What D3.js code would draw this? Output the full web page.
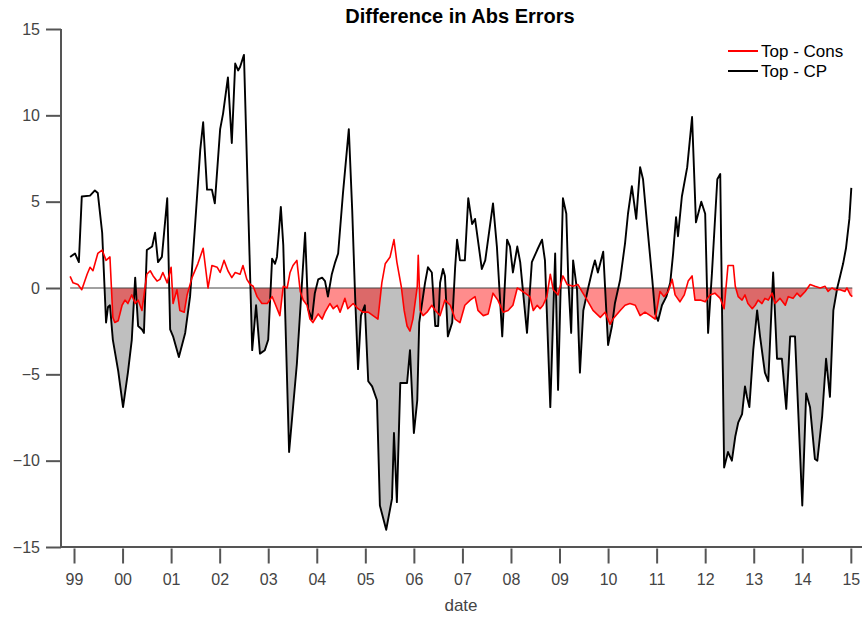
<!DOCTYPE html>
<html>
<head>
<meta charset="utf-8">
<script src="https://cdn.jsdelivr.net/npm/d3@7"></script>
<style>
  html, body { margin: 0; padding: 0; background: #fff; }
  svg { display: block; font-family: "Liberation Sans", Arial, Helvetica, sans-serif; }
</style>
</head>
<body>
<svg id="chart" width="863" height="618"></svg>
<script>
// ---- data (decimal years, values) ----
const cpDates = [1998.92,1999.02,1999.10,1999.16,1999.33,1999.43,1999.49,1999.58,1999.66,1999.70,1999.74,1999.80,1999.91,2000.01,2000.11,2000.19,2000.26,2000.32,2000.40,2000.44,2000.50,2000.61,2000.67,2000.73,2000.81,2000.92,2000.98,2001.04,2001.16,2001.29,2001.39,2001.49,2001.60,2001.66,2001.74,2001.84,2001.90,2002.01,2002.07,2002.17,2002.25,2002.32,2002.38,2002.42,2002.50,2002.67,2002.75,2002.83,2002.93,2003.00,2003.08,2003.14,2003.18,2003.26,2003.31,2003.43,2003.59,2003.76,2003.82,2003.90,2003.96,2004.03,2004.11,2004.17,2004.23,2004.31,2004.38,2004.44,2004.54,2004.66,2004.73,2004.79,2004.85,2004.91,2004.99,2005.06,2005.14,2005.24,2005.30,2005.43,2005.55,2005.59,2005.65,2005.72,2005.86,2005.92,2006.00,2006.07,2006.11,2006.23,2006.29,2006.37,2006.44,2006.50,2006.54,2006.60,2006.64,2006.70,2006.79,2006.85,2006.89,2006.95,2007.05,2007.12,2007.20,2007.26,2007.40,2007.47,2007.63,2007.71,2007.82,2007.92,2007.98,2008.04,2008.13,2008.19,2008.33,2008.43,2008.54,2008.64,2008.70,2008.81,2008.91,2008.97,2009.07,2009.14,2009.18,2009.24,2009.28,2009.36,2009.42,2009.49,2009.59,2009.69,2009.73,2009.79,2009.90,2010.00,2010.08,2010.14,2010.25,2010.35,2010.41,2010.49,2010.58,2010.66,2010.72,2010.80,2010.91,2010.97,2011.03,2011.11,2011.20,2011.28,2011.34,2011.40,2011.44,2011.52,2011.63,2011.73,2011.81,2011.92,2012.00,2012.06,2012.14,2012.25,2012.31,2012.39,2012.47,2012.55,2012.62,2012.68,2012.76,2012.82,2012.86,2012.91,2012.99,2013.07,2013.13,2013.23,2013.30,2013.40,2013.48,2013.58,2013.67,2013.75,2013.85,2014.00,2014.08,2014.16,2014.26,2014.31,2014.41,2014.49,2014.57,2014.64,2014.72,2014.78,2014.84,2014.90,2014.97,2015.01];
const cpValues = [1.8,2.0,1.5,5.3,5.35,5.65,5.5,3.2,-2.0,-1.1,-1.0,-3.0,-4.8,-6.9,-4.9,-3.0,0.6,-2.2,-2.4,-2.6,2.2,2.4,3.2,1.5,1.8,5.2,-2.4,-2.8,-4.0,-2.6,-0.5,3.5,8.0,9.6,5.7,5.7,4.9,9.2,10.1,12.2,8.4,13.0,12.6,12.8,13.5,-3.6,-1.0,-3.8,-3.6,-3.0,1.7,1.4,1.8,4.7,2.5,-9.5,-4.4,3.2,-1.2,-1.8,-0.3,0.5,0.6,0.4,-0.5,0.8,1.5,2.0,5.5,9.2,4.5,-0.5,-4.7,-1.6,-1.0,-5.4,-5.7,-6.5,-12.6,-14.0,-12.2,-8.4,-12.4,-5.5,-5.5,-3.6,-8.4,-6.5,-2.0,0.3,1.2,0.9,-2.2,-2.2,0.3,1.1,0.7,-2.8,-2.0,1.2,2.8,1.6,1.6,5.2,3.7,4.0,1.1,1.6,4.9,2.4,-2.8,2.8,2.4,0.9,2.4,1.5,-2.6,1.5,2.2,2.8,1.6,-6.9,2.0,-5.9,5.2,4.3,0.5,-2.6,1.6,-0.1,-4.9,-1.3,0.0,1.2,1.6,0.9,2.1,-3.3,-2.2,-0.9,0.5,2.6,4.3,5.9,4.0,7.0,6.3,3.8,0.5,-1.5,-1.9,-1.0,-0.5,0.3,2.0,4.1,3.0,5.3,7.0,9.9,3.8,5.0,4.3,-2.6,0.9,6.3,6.6,-10.4,-9.5,-10.0,-8.6,-7.8,-7.3,-5.7,-6.3,-6.9,-3.6,-1.3,-2.8,-4.9,-5.4,0.9,-4.1,-4.1,-7.0,-2.8,-2.8,-12.6,-6.1,-6.9,-9.9,-10.0,-7.4,-4.1,-6.3,-1.3,0.0,0.7,1.4,2.3,4.0,5.8];

const consDates = [1998.92,1998.98,1999.08,1999.16,1999.27,1999.33,1999.39,1999.49,1999.58,1999.66,1999.74,1999.80,1999.84,1999.91,1999.99,2000.05,2000.11,2000.19,2000.26,2000.32,2000.40,2000.50,2000.57,2000.63,2000.71,2000.77,2000.83,2000.92,2001.00,2001.04,2001.12,2001.18,2001.27,2001.33,2001.43,2001.55,2001.66,2001.76,2001.84,2001.95,2002.01,2002.09,2002.17,2002.25,2002.32,2002.42,2002.48,2002.56,2002.63,2002.69,2002.77,2002.87,2002.98,2003.08,2003.14,2003.24,2003.31,2003.39,2003.45,2003.51,2003.59,2003.66,2003.72,2003.80,2003.86,2003.92,2004.03,2004.11,2004.17,2004.27,2004.34,2004.42,2004.48,2004.58,2004.64,2004.75,2004.85,2004.95,2005.06,2005.16,2005.26,2005.34,2005.41,2005.51,2005.59,2005.65,2005.74,2005.80,2005.86,2005.92,2005.98,2006.07,2006.09,2006.13,2006.19,2006.27,2006.37,2006.44,2006.54,2006.64,2006.75,2006.85,2006.95,2007.05,2007.16,2007.26,2007.32,2007.43,2007.53,2007.63,2007.73,2007.84,2007.94,2008.04,2008.13,2008.19,2008.29,2008.39,2008.46,2008.54,2008.60,2008.66,2008.74,2008.81,2008.87,2008.97,2009.07,2009.16,2009.28,2009.38,2009.46,2009.57,2009.69,2009.84,2009.94,2010.04,2010.10,2010.25,2010.35,2010.45,2010.56,2010.66,2010.76,2010.87,2010.97,2011.07,2011.15,2011.24,2011.32,2011.38,2011.48,2011.57,2011.65,2011.73,2011.79,2011.90,2012.00,2012.10,2012.20,2012.31,2012.39,2012.47,2012.58,2012.62,2012.68,2012.76,2012.82,2012.88,2012.97,2013.03,2013.09,2013.17,2013.23,2013.30,2013.38,2013.44,2013.54,2013.65,2013.71,2013.81,2013.89,2013.96,2014.06,2014.16,2014.26,2014.37,2014.47,2014.53,2014.61,2014.68,2014.78,2014.88,2014.92,2014.99,2015.03];
const consValues = [0.67,0.3,0.2,-0.1,0.8,1.2,1.0,2.0,2.2,1.6,1.8,-1.7,-2.0,-1.9,-1.0,-0.7,-0.9,-0.4,-0.9,-0.7,-1.3,0.8,1.0,0.7,0.4,0.5,0.9,0.3,1.2,-0.9,-0.1,-1.3,-1.4,-0.4,0.6,1.4,2.3,0.0,1.3,1.2,0.9,1.6,1.0,0.6,0.9,0.8,1.3,0.5,0.2,0.1,-0.5,-0.9,-0.9,-0.5,-0.9,-1.6,0.1,0.0,0.9,1.3,1.6,-0.2,-0.7,-1.0,-1.8,-2.0,-1.5,-1.8,-1.4,-0.9,-1.2,-1.0,-1.4,-0.6,-1.2,-0.9,-1.2,-1.4,-1.4,-1.6,-1.8,0.3,1.4,1.8,2.8,1.5,0.1,-1.3,-2.2,-2.5,-1.8,0.1,1.9,-1.3,-1.6,-1.4,-1.0,-1.3,-1.6,-0.7,-1.0,-1.8,-2.0,-1.0,-0.7,-0.5,-1.3,-1.6,-1.5,-0.3,-0.7,-1.4,-1.3,-1.0,0.0,-0.1,-0.3,-0.5,-1.3,-1.0,-1.2,-1.0,-0.5,0.8,-0.1,-0.4,0.7,0.2,0.1,0.2,-0.2,-0.7,-1.3,-1.7,-1.4,-2.1,-1.8,-1.3,-1.0,-0.9,-1.0,-1.6,-1.4,-1.6,-1.8,-0.2,-0.5,-0.2,0.5,-0.4,-0.8,-0.4,0.4,0.7,-0.7,-0.7,-0.8,-0.4,-0.3,-0.6,-1.2,1.3,1.3,0.1,-0.5,-0.7,-0.4,-0.9,-1.2,-1.0,-0.7,-0.9,-0.6,-0.7,-0.3,-0.9,-0.6,-1.0,-0.5,-0.6,-0.3,-0.5,-0.2,0.2,0.1,0.0,0.1,-0.2,0.0,-0.1,-0.1,-0.2,0.0,-0.4,-0.5];

const yearTicks = [1999,2000,2001,2002,2003,2004,2005,2006,2007,2008,2009,2010,2011,2012,2013,2014,2015];
const yearLabels = ["99","00","01","02","03","04","05","06","07","08","09","10","11","12","13","14","15"];
const yTicks = [-15,-10,-5,0,5,10,15];
const seriesNames = ["Top - Cons","Top - CP"];
const seriesColors = ["#ff0000","#000000"];
const titleText = "Difference in Abs Errors";
const xLabelText = "date";

// ---- layout ----
const svg = d3.select("#chart");
const L = 61, R = 862, T = 29, B = 547;
const x = d3.scaleLinear().domain([1998.732, 2015.23]).range([L, R]);
const y = d3.scaleLinear().domain([-15, 15]).range([B, T]);
const axisColor = "#555";
const textColor = "#444";

const cp = cpDates.map((d, i) => ({t: d, v: cpValues[i]}));
const cons = consDates.map((d, i) => ({t: d, v: consValues[i]}));

// clip to the region below zero
const defs = svg.append("defs");
defs.append("clipPath").attr("id", "neg")
  .append("rect").attr("x", L).attr("y", y(0)).attr("width", R - L).attr("height", B - y(0));

const area = d3.area().x(d => x(d.t)).y0(y(0)).y1(d => y(d.v));
const line = d3.line().x(d => x(d.t)).y(d => y(d.v));

svg.append("path").datum(cp).attr("d", area)
  .attr("fill", "#bfbfbf").attr("clip-path", "url(#neg)");
svg.append("path").datum(cons).attr("d", area)
  .attr("fill", "#ff0000").attr("fill-opacity", 0.45).attr("clip-path", "url(#neg)");

// zero line
svg.append("line")
  .attr("x1", x(d3.min(cpDates))).attr("x2", x(d3.max(consDates)))
  .attr("y1", y(0)).attr("y2", y(0))
  .attr("stroke", "#444").attr("stroke-width", 1);

svg.append("path").datum(cp).attr("d", line)
  .attr("fill", "none").attr("stroke", seriesColors[1]).attr("stroke-width", 1.9)
  .attr("stroke-linejoin", "round");
svg.append("path").datum(cons).attr("d", line)
  .attr("fill", "none").attr("stroke", seriesColors[0]).attr("stroke-width", 1.6)
  .attr("stroke-linejoin", "round");

// axes
const yAxis = d3.axisLeft(y).tickValues(yTicks).tickSize(15).tickPadding(6).tickFormat(d3.format("d"));
const gy = svg.append("g").attr("transform", `translate(${L},0)`).call(yAxis);
gy.select(".domain").remove();
gy.selectAll(".tick line").attr("stroke", axisColor).attr("stroke-width", 2);
gy.selectAll(".tick text").attr("fill", textColor).attr("font-size", 16);

const xAxis = d3.axisBottom(x).tickValues(yearTicks).tickSize(15).tickPadding(10)
  .tickFormat((d, i) => yearLabels[i]);
const gx = svg.append("g").attr("transform", `translate(0,${B + 1.5})`).call(xAxis);
gx.select(".domain").remove();
gx.selectAll(".tick line").attr("stroke", axisColor).attr("stroke-width", 2);
gx.selectAll(".tick text").attr("fill", textColor).attr("font-size", 16);

svg.append("line").attr("x1", L).attr("x2", L).attr("y1", T).attr("y2", B + 1)
  .attr("stroke", axisColor).attr("stroke-width", 2);
svg.append("line").attr("x1", L - 1).attr("x2", R).attr("y1", B).attr("y2", B)
  .attr("stroke", axisColor).attr("stroke-width", 2);

// title & labels
svg.append("text").attr("x", 460).attr("y", 23).attr("text-anchor", "middle")
  .attr("font-weight", "bold").attr("font-size", 20).attr("fill", "#000").text(titleText);
svg.append("text").attr("x", 461).attr("y", 611).attr("text-anchor", "middle")
  .attr("font-size", 17).attr("fill", textColor).text(xLabelText);

// legend
const lg = svg.append("g");
seriesNames.forEach((name, i) => {
  const yy = 51 + i * 20;
  lg.append("line").attr("x1", 728).attr("x2", 758).attr("y1", yy).attr("y2", yy)
    .attr("stroke", seriesColors[i]).attr("stroke-width", 2);
  lg.append("text").attr("x", 761).attr("y", yy).attr("dy", "0.35em")
    .attr("font-size", 17).attr("fill", "#000").text(name);
});
</script>
</body>
</html>
